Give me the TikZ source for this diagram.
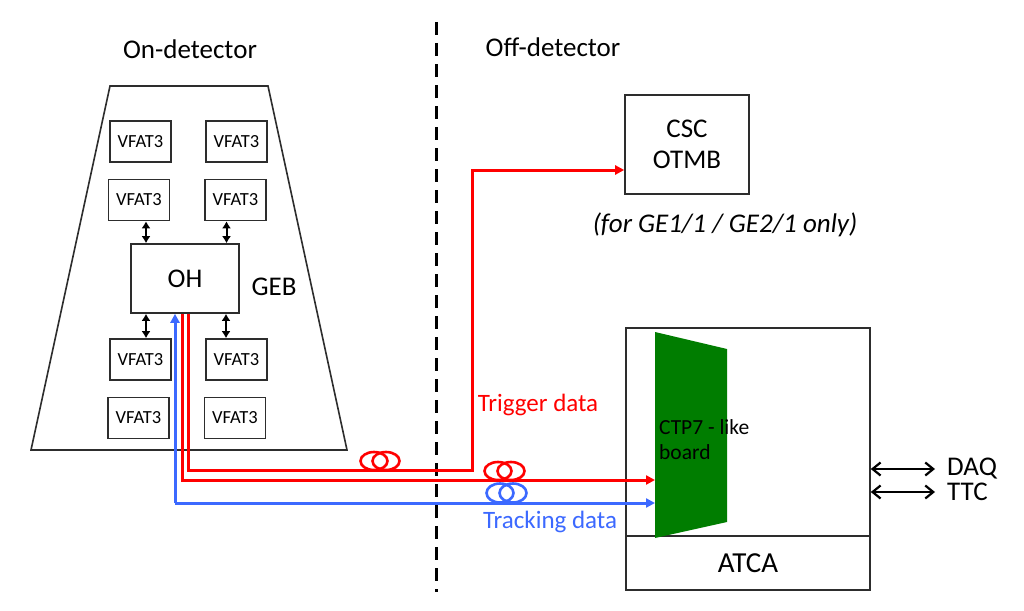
\documentclass[tikz,border=0pt]{standalone}
\usepackage{fontspec}
\setmainfont{Carlito}
\usetikzlibrary{arrows.meta,calc}
\definecolor{sigred}{RGB}{255,0,0}
\definecolor{sigblue}{RGB}{60,105,255}
\definecolor{boardgreen}{RGB}{0,125,0}
\definecolor{edge}{RGB}{45,45,45}
\begin{document}
\begin{tikzpicture}[x=1pt,y=-1pt,
  box/.style={draw=edge,line width=1.6pt,inner sep=0pt},
  vfat/.style={box,minimum width=61pt,minimum height=41pt,font=\fontsize{18.5}{20}\selectfont},
  bigtxt/.style={font=\fontsize{27}{30}\selectfont},
  sigtxt/.style={font=\fontsize{25}{28}\selectfont},
  link/.style={draw=black,line width=2pt,{Latex[length=7pt,width=9pt]}-{Latex[length=7pt,width=9pt]}},
  redline/.style={draw=sigred,line width=3pt,line join=miter},
  blueline/.style={draw=sigblue,line width=3pt,line join=miter},
  coilred/.style={draw=sigred,line width=2.6pt},
  coilblue/.style={draw=sigblue,line width=2.6pt},
  extarrow/.style={draw=black,line width=2.2pt,{Straight Barb[length=8pt,width=13pt]}-{Straight Barb[length=8pt,width=13pt]}}
]
\useasboundingbox (0,0) rectangle (1024,610);
\fill[white] (0,0) rectangle (1024,610);

% separator
\draw[line width=3pt,dash pattern=on 13pt off 8pt] (436,22) -- (436,592);
\node[bigtxt] (ondet) at (190,49) {On-detector};
\node[bigtxt] (offdet) at (553,47) {Off-detector};

% GEB trapezoid
\draw[draw=edge,line width=1.6pt] (110,86) -- (268,86) -- (347,450) -- (31,450) -- cycle;
\node[bigtxt] (geb) at (274,287) {GEB};

% VFAT3 chips
\node[vfat] (v1l) at (140.5,141.5) {VFAT3};
\node[vfat] (v1r) at (236.5,141.5) {VFAT3};
\node[vfat] (v2l) at (139,200) {VFAT3};
\node[vfat] (v2r) at (235.5,200) {VFAT3};
\node[vfat] (v3l) at (140.5,359.5) {VFAT3};
\node[vfat] (v3r) at (236.5,359.5) {VFAT3};
\node[vfat] (v4l) at (138.5,418) {VFAT3};
\node[vfat] (v4r) at (235,418) {VFAT3};

% OH
\node[box,minimum width=108pt,minimum height=69pt,bigtxt] (oh) at (185,278.5) {OH};

% links VFAT <-> OH
\draw[link] ([xshift=7pt]v2l.south) -- ([xshift=7pt]v2l.south |- oh.north);
\draw[link] ([xshift=-9pt]v2r.south) -- ([xshift=-9pt]v2r.south |- oh.north);
\draw[link] ([xshift=-39pt]oh.south) -- ([xshift=-39pt]oh.south |- v3l.north);
\draw[link] ([xshift=41pt]oh.south) -- ([xshift=41pt]oh.south |- v3r.north);

% CSC OTMB
\node[box,minimum width=124pt,minimum height=99pt,bigtxt,align=center] (csc) at (687,144.5) {CSC\\[1pt]OTMB};
\node[font=\fontsize{27}{30}\selectfont\itshape] (cscnote) at (725,225) {(for GE1/1 / GE2/1 only)};

% ATCA crate
\node[box,minimum width=244pt,minimum height=208pt] (crate) at (748,432) {};
\node[box,minimum width=244pt,minimum height=54pt,font=\fontsize{29}{32}\selectfont] (atca) at (748,563) {ATCA};

% CTP7 board
\fill[boardgreen] (655,332) coordinate (ctl) -- (727,349) coordinate (ctr) -- (727,522) coordinate (cbr) -- (655,538) coordinate (cbl) -- cycle;
\node[anchor=west,align=left,font=\fontsize{21.5}{25}\selectfont,inner sep=0pt] (ctp) at (659,440) {CTP7 - like\\board};
\coordinate (ctpred) at (655,480);
\coordinate (ctpblue) at (655,503);

% signal lines
\coordinate (ohred1) at ([xshift=3pt]oh.south);
\coordinate (ohred2) at ([xshift=-3pt]oh.south);
\coordinate (ohblue) at ([xshift=-10pt]oh.south);
\draw[redline,-{Triangle[length=9pt,width=9pt]}] (ohred1) -- (ohred1 |- 0,470) -- (472,470) -- (472,170) -- (csc.west |- 0,170);
\draw[redline,-{Triangle[length=9pt,width=9pt]}] (ohred2) -- (ohred2 |- ctpred) -- (ctpred);
\draw[blueline,-{Triangle[length=9pt,width=9pt]}] (ctpblue -| ohblue) -- (ohblue);
\draw[blueline,-{Triangle[length=9pt,width=9pt]}] (ctpblue -| ohblue) -- (ctpblue);

% fibre coils
\draw[coilred] (374,461) ellipse [x radius=13.5pt,y radius=9pt];
\draw[coilred] (386,461) ellipse [x radius=13.5pt,y radius=9pt];
\draw[coilred] (498,471) ellipse [x radius=13.5pt,y radius=9pt];
\draw[coilred] (511,471) ellipse [x radius=13.5pt,y radius=9pt];
\draw[coilblue] (500,493) ellipse [x radius=13.5pt,y radius=9.5pt];
\draw[coilblue] (513,493) ellipse [x radius=13.5pt,y radius=9.5pt];

\node[sigtxt,text=sigred] (trig) at (538,405) {Trigger data};
\node[sigtxt,text=sigblue] (track) at (550,522) {Tracking data};

% DAQ / TTC
\node[bigtxt,anchor=west,inner sep=0pt] (daq) at (947,469) {DAQ};
\node[bigtxt,anchor=west,inner sep=0pt] (ttc) at (947,492) {TTC};
\draw[extarrow] (crate.east |- daq.west) -- ([xshift=-12pt]daq.west);
\draw[extarrow] (crate.east |- ttc.west) -- ([xshift=-12pt]ttc.west);
\end{tikzpicture}
\end{document}
